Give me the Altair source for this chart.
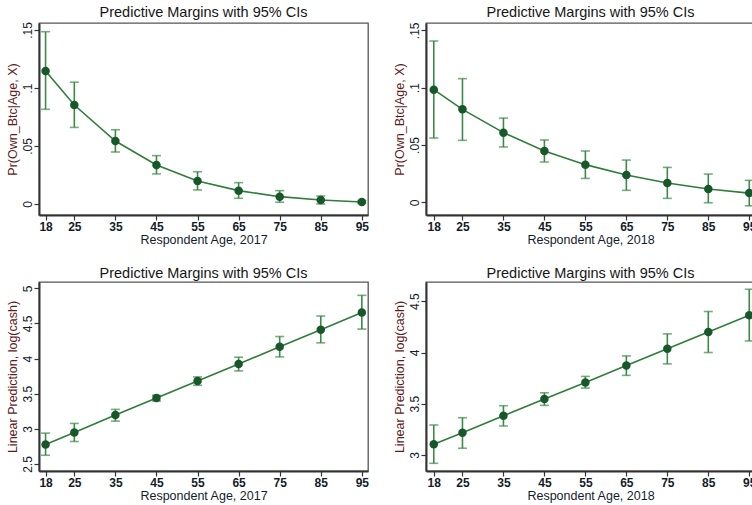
import altair as alt
import pandas as pd

ages = [18, 25, 35, 45, 55, 65, 75, 85, 95]

btc17_est = [0.1147, 0.0853, 0.0543, 0.0336, 0.0198, 0.0115, 0.0063, 0.0034, 0.0017]
btc17_hi = [0.1485, 0.1050, 0.0640, 0.0417, 0.0278, 0.0184, 0.0115, 0.0069, 0.0030]
btc17_lo = [0.0816, 0.0660, 0.0448, 0.0259, 0.0121, 0.0049, 0.0015, 0.0000, 0.0006]

btc18_est = [0.0983, 0.0811, 0.0608, 0.0448, 0.0329, 0.0238, 0.0169, 0.0116, 0.0081]
btc18_hi = [0.1407, 0.1079, 0.0735, 0.0544, 0.0448, 0.0369, 0.0305, 0.0247, 0.0192]
btc18_lo = [0.0561, 0.0541, 0.0483, 0.0352, 0.0209, 0.0105, 0.0035, -0.0003, -0.0030]

cash17_est = [2.777, 2.949, 3.196, 3.439, 3.681, 3.924, 4.167, 4.410, 4.657]
cash17_hi = [2.939, 3.077, 3.277, 3.477, 3.739, 4.020, 4.314, 4.606, 4.900]
cash17_lo = [2.624, 2.820, 3.110, 3.396, 3.620, 3.824, 4.024, 4.224, 4.420]

cash18_est = [3.104, 3.218, 3.383, 3.546, 3.708, 3.874, 4.036, 4.201, 4.364]
cash18_hi = [3.293, 3.364, 3.481, 3.607, 3.767, 3.967, 4.182, 4.400, 4.617]
cash18_lo = [2.919, 3.066, 3.283, 3.484, 3.653, 3.777, 3.889, 4.000, 4.113]

btc_ticks = [0, 0.05, 0.1, 0.15]
cash17_ticks = [2.5, 3, 3.5, 4, 4.5, 5]
cash18_ticks = [3, 3.5, 4, 4.5]

TITLE = "Predictive Margins with 95% CIs"
FONT = "Liberation Sans"
LINE_C = "#2f7d3a"
BAR_C = "#3b8a46"
PT_C = "#17572a"
LABEL_C = "#141c2c"
YTITLE_C = "#5e1a1a"


def panel(est, hi, lo, xtitle, ytitle, xdom, ydom, yticks, ylabel_expr, w, h):
    df = pd.DataFrame({"age": ages, "est": est, "hi": hi, "lo": lo})
    base = alt.Chart(df)
    xaxis = alt.Axis(
        values=ages, title=xtitle, grid=False, labelFontWeight="bold",
        labelFontSize=12, labelColor=LABEL_C, labelPadding=1,
        titleFontSize=12.5, titleColor=LABEL_C, titleFontWeight="normal",
        titlePadding=1, tickSize=5, labelFlush=False, labelOverlap=False,
    )
    yaxis = alt.Axis(
        values=yticks, title=ytitle, grid=False, labelAngle=270,
        labelAlign="center", labelBaseline="bottom", labelFontSize=12,
        labelColor=LABEL_C, labelPadding=0, labelExpr=ylabel_expr,
        titleFontSize=12.5, titleColor=YTITLE_C, titleFontWeight="normal",
        titlePadding=2, tickSize=5, labelFlush=False, labelOverlap=False,
    )
    xs = alt.Scale(domain=xdom, nice=False, zero=False)
    ys = alt.Scale(domain=ydom, nice=False, zero=False)

    def X():
        return alt.X("age:Q", scale=xs, axis=xaxis)

    def Y(f):
        return alt.Y(f, scale=ys, axis=yaxis)

    bars = base.mark_rule(color=BAR_C, strokeWidth=1.6).encode(
        x=X(), y=Y("lo:Q"), y2="hi:Q")
    cap_hi = base.mark_tick(color=BAR_C, orient="horizontal", size=9, thickness=1.6).encode(
        x=X(), y=Y("hi:Q"))
    cap_lo = base.mark_tick(color=BAR_C, orient="horizontal", size=9, thickness=1.6).encode(
        x=X(), y=Y("lo:Q"))
    line = base.mark_line(color=LINE_C, strokeWidth=1.6).encode(x=X(), y=Y("est:Q"))
    pts = base.mark_circle(color=PT_C, size=72, opacity=1).encode(x=X(), y=Y("est:Q"))
    return alt.layer(bars, cap_hi, cap_lo, line, pts).properties(
        width=w, height=h,
        title=alt.TitleParams(TITLE, fontSize=14.5, font=FONT, fontWeight="normal",
                              color="#161616", offset=1, anchor="middle", frame="group"),
    )


btc_expr = "datum.value == 0 ? '0' : replace(format(datum.value, '.2~f'), '0.', '.')"
num_expr = "format(datum.value, '~g')"

tl = panel(btc17_est, btc17_hi, btc17_lo, "Respondent Age, 2017", "Pr(Own_Btc|Age, X)",
           [16.4, 96.5], [-0.0095, 0.156], btc_ticks, btc_expr, 329, 192)
tr = panel(btc18_est, btc18_hi, btc18_lo, "Respondent Age, 2018", "Pr(Own_Btc|Age, X)",
           [16.1, 96.4], [-0.011, 0.1564], btc_ticks, btc_expr, 329, 192)
bl = panel(cash17_est, cash17_hi, cash17_lo, "Respondent Age, 2017", "Linear Prediction, log(cash)",
           [16.4, 96.5], [2.4, 5.09], cash17_ticks, num_expr, 329, 189)
br = panel(cash18_est, cash18_hi, cash18_lo, "Respondent Age, 2018", "Linear Prediction, log(cash)",
           [16.1, 96.4], [2.844, 4.688], cash18_ticks, num_expr, 329, 189)

chart = alt.concat(tl, tr, bl, br, columns=2, spacing=alt.RowColnumber(row=67, column=58),
                   bounds="flush").properties(
    autosize=alt.AutoSizeParams(type="none"),
    padding={"left": 39, "top": 23, "right": 713, "bottom": 482},
    background="white",
).configure_view(
    stroke="#555555", strokeWidth=1.3,
).configure_axis(
    domainColor="#333333", domainWidth=2, tickColor="#333333", tickWidth=1.2,
    labelFont=FONT, titleFont=FONT,
).configure_title(font=FONT)

chart.save("out.html", embed_options={"renderer": "svg", "actions": False})
